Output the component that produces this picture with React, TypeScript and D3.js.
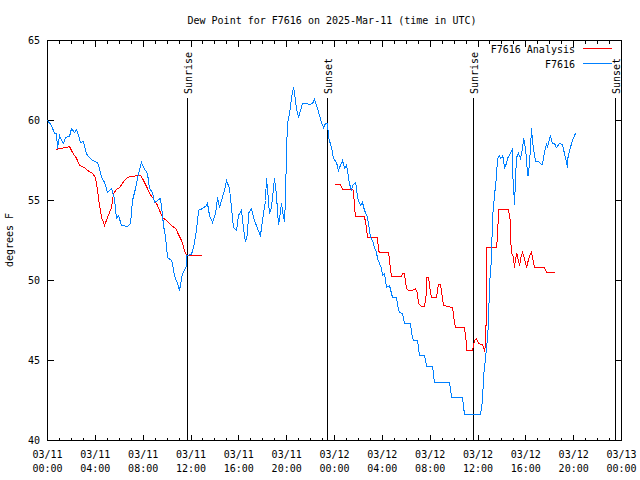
import React from 'react';
import * as d3 from 'd3';

// hours after 2025-03-11 00:00 UTC, dew point in deg F
const observed: [number, number][] = [
  [0, 60.0], [0.33, 59.69], [0.59, 59.19], [0.75, 59.19], [0.84, 58.25], [1.0, 59.06], [1.17, 58.75],
  [1.34, 58.56], [1.51, 58.94], [1.84, 59.0], [2.01, 59.5], [2.26, 59.25], [2.43, 59.44], [2.59, 59.06],
  [2.76, 58.63], [3.01, 58.69], [3.26, 57.94], [3.35, 57.81], [3.76, 57.5], [4.18, 57.38], [4.35, 57.0],
  [4.52, 56.44], [4.77, 56.13], [5.02, 55.5], [5.35, 55.75], [5.6, 55.13], [5.77, 53.88], [5.94, 54.06],
  [6.19, 53.44], [6.69, 53.38], [6.94, 53.56], [7.11, 55.0], [7.36, 55.75], [7.61, 56.69], [7.86, 57.38],
  [8.03, 57.06], [8.36, 56.69], [8.53, 55.75], [8.78, 55.5], [8.95, 54.88], [9.2, 55.0], [9.45, 55.13],
  [9.62, 54.06], [9.7, 53.44], [9.87, 52.69], [10.04, 51.44], [10.37, 51.25], [10.45, 51.06], [10.62, 50.31],
  [10.87, 49.81], [11.04, 49.38], [11.21, 50.13], [11.29, 50.44], [11.46, 50.63], [11.62, 50.94], [11.63, 51.56],
  [12.04, 51.63], [12.21, 52.06], [12.46, 53.13], [12.63, 54.38], [12.96, 54.5], [13.3, 54.69], [13.38, 54.81],
  [13.55, 54.06], [13.8, 53.63], [14.05, 54.19], [14.22, 55.19], [14.38, 54.56], [14.55, 55.0], [14.8, 55.63],
  [14.97, 56.25], [15.22, 55.75], [15.39, 54.5], [15.55, 53.31], [15.81, 53.13], [15.97, 54.06], [16.06, 54.19],
  [16.22, 54.38], [16.39, 53.25], [16.56, 52.38], [16.73, 52.94], [16.81, 54.19], [17.06, 54.5], [17.31, 53.75],
  [17.56, 53.25], [17.81, 52.81], [17.98, 53.75], [18.23, 55.0], [18.31, 56.38], [18.4, 55.75], [18.56, 54.19],
  [18.73, 54.56], [18.98, 56.38], [19.15, 55.31], [19.23, 54.38], [19.32, 53.44], [19.57, 54.81], [19.65, 54.38],
  [19.82, 53.63], [19.9, 55.13], [19.99, 58.13], [20.07, 59.81], [20.24, 60.44], [20.4, 61.38], [20.57, 62.06],
  [20.66, 61.69], [20.82, 60.75], [20.99, 60.19], [21.16, 60.63], [21.32, 61.06], [21.66, 61.06], [21.91, 61.0],
  [22.16, 61.06], [22.33, 61.31], [22.5, 60.94], [22.75, 60.31], [22.91, 59.88], [23.08, 59.56], [23.25, 59.81],
  [23.42, 59.81], [23.5, 58.94], [23.75, 58.31], [23.92, 57.63], [24.17, 57.38], [24.33, 56.88], [24.5, 57.19],
  [24.67, 57.5], [24.84, 57.0], [25.0, 57.19], [25.09, 56.88], [25.25, 56.06], [25.42, 55.63], [25.51, 55.94],
  [25.76, 56.13], [25.84, 55.75], [25.92, 55.19], [26.17, 54.69], [26.34, 54.88], [26.51, 54.38], [26.76, 53.94],
  [26.84, 53.56], [27.01, 52.69], [27.18, 52.5], [27.35, 52.06], [27.51, 51.75], [27.6, 51.38], [27.76, 51.06],
  [27.93, 50.75], [28.01, 50.31], [28.18, 50.44], [28.35, 49.56], [28.6, 49.69], [28.85, 48.94], [29.19, 48.94],
  [29.27, 48.44], [29.44, 48.0], [29.69, 47.94], [29.85, 47.31], [30.36, 47.31], [30.44, 46.69], [30.61, 46.25],
  [30.94, 46.25], [31.11, 45.31], [31.53, 45.31], [31.7, 44.63], [32.2, 44.63], [32.36, 43.63], [33.62, 43.63],
  [33.79, 42.69], [34.7, 42.69], [34.87, 41.63], [36.21, 41.63], [36.38, 42.5], [36.46, 43.94], [36.63, 45.19],
  [36.8, 46.44], [36.88, 47.38], [36.96, 49.69], [37.13, 51.38], [37.21, 53.88], [37.38, 55.31], [37.55, 56.56],
  [37.63, 57.63], [37.8, 57.81], [37.88, 57.63], [38.05, 57.69], [38.08, 57.81], [38.22, 57.06], [38.38, 57.31],
  [38.47, 57.63], [38.72, 57.94], [38.89, 58.25], [38.92, 56.44], [39.06, 54.75], [39.14, 56.44], [39.22, 57.69],
  [39.39, 57.94], [39.56, 57.63], [39.73, 58.31], [39.81, 58.88], [39.89, 58.63], [40.06, 57.63], [40.14, 56.56],
  [40.22, 56.56], [40.39, 58.25], [40.47, 59.5], [40.56, 58.75], [40.64, 58.25], [40.81, 57.44], [41.06, 57.44],
  [41.31, 57.25], [41.39, 57.25], [41.56, 58.0], [41.73, 58.56], [41.81, 58.31], [42.06, 59.06], [42.23, 58.56],
  [42.4, 58.56], [42.56, 58.31], [42.81, 58.56], [43.06, 58.5], [43.23, 57.94], [43.4, 57.38], [43.48, 57.06],
  [43.51, 57.63], [43.73, 58.31], [43.9, 58.75], [44.15, 59.19],
];

const analysisDay1: [number, number][] = [
  [0.75, 58.19], [1.0, 58.25], [1.59, 58.31], [1.84, 58.38], [2.09, 58.0], [2.43, 57.63], [2.68, 57.19],
  [3.09, 57.06], [3.35, 56.88], [3.76, 56.69], [4.01, 56.44], [4.18, 55.63], [4.35, 54.69], [4.52, 53.94],
  [4.77, 53.44], [5.02, 53.94], [5.35, 54.56], [5.52, 55.44], [5.77, 55.69], [6.02, 55.81], [6.44, 56.25],
  [6.69, 56.44], [7.02, 56.5], [7.53, 56.56], [7.78, 56.56], [7.94, 56.38], [8.28, 55.88], [8.53, 55.44],
  [8.78, 55.19], [9.12, 54.81], [9.37, 54.38], [9.62, 53.94], [9.95, 53.75], [10.37, 53.44], [10.79, 53.19],
  [10.87, 53.0], [11.21, 52.5], [11.46, 51.88], [11.62, 51.56], [12.88, 51.56],
];

const analysisDay2: [number, number][] = [
  [24.0, 56.0], [24.5, 56.0], [24.67, 55.69], [25.42, 55.69], [25.59, 55.63], [25.67, 54.56], [25.76, 54.0],
  [26.51, 54.0], [26.68, 53.25], [26.76, 52.69], [27.6, 52.69], [27.68, 51.88], [27.76, 51.75], [28.52, 51.75],
  [28.68, 50.75], [28.77, 50.25], [29.6, 50.25], [29.69, 50.44], [29.85, 50.44], [30.02, 49.5], [30.19, 49.38],
  [30.52, 49.38], [30.77, 49.5], [30.94, 49.19], [31.02, 48.56], [31.27, 48.38], [31.53, 48.38], [31.7, 49.25],
  [31.72, 50.19], [31.86, 50.19], [32.03, 49.25], [32.11, 48.94], [32.53, 48.94], [32.61, 49.38], [32.7, 49.75],
  [32.86, 49.75], [33.03, 48.88], [33.12, 48.44], [33.87, 48.31], [34.03, 47.38], [34.12, 47.06], [34.87, 47.06],
  [35.04, 46.06], [35.06, 45.63], [35.54, 45.63], [35.62, 45.88], [35.71, 46.25], [35.88, 46.38], [36.04, 46.06],
  [36.38, 46.0], [36.54, 45.63], [36.63, 45.88], [36.68, 47.5], [36.73, 52.06], [37.55, 52.06], [37.63, 52.69],
  [37.72, 54.44], [38.55, 54.44], [38.72, 53.63], [38.75, 52.38], [38.8, 51.75], [38.92, 51.56], [39.06, 50.81],
  [39.14, 51.38], [39.25, 51.69], [39.31, 51.44], [39.48, 50.94], [39.62, 51.56], [39.73, 51.75], [39.89, 51.38],
  [40.06, 50.81], [40.14, 51.06], [40.31, 51.56], [40.47, 51.75], [40.56, 51.44], [40.73, 50.81], [41.56, 50.81],
  [41.73, 50.5], [42.4, 50.5], [42.48, 50.44],
];

const sunEvents: { hour: number; label: string }[] = [
  { hour: 11.64, label: 'Sunrise' },
  { hour: 23.41, label: 'Sunset' },
  { hour: 35.62, label: 'Sunrise' },
  { hour: 47.48, label: 'Sunset' },
];

const yTicks = [40, 45, 50, 55, 60, 65];
const majorTickHours = d3.range(0, 49, 4);
const minorTickHours = d3.range(0, 49, 1).filter(h => h % 4 !== 0);

const start = Date.UTC(2025, 2, 11, 0, 0);
const toDate = (h: number) => new Date(start + h * 3600 * 1000);

const width = 640;
const height = 480;
const margin = { top: 40.5, right: 18.5, bottom: 39.5, left: 47.5 };
const font = '"DejaVu Sans Mono", "Liberation Mono", monospace';

const App: React.FC = () => {
  const x = d3.scaleUtc()
    .domain([toDate(0), toDate(48)])
    .range([margin.left, width - margin.right]);
  const y = d3.scaleLinear()
    .domain([40, 65])
    .range([height - margin.bottom, margin.top]);

  const line = d3.line<[number, number]>()
    .x(d => x(toDate(d[0])))
    .y(d => y(d[1]));

  const fmtDay = d3.utcFormat('%m/%d');
  const fmtTime = d3.utcFormat('%H:%M');
  const x0 = margin.left, x1 = width - margin.right;
  const y0 = margin.top, y1 = height - margin.bottom;
  const sx = (h: number) => Math.round(x(toDate(h))) + 0.5;

  return (
    <svg width={width} height={height} style={{ position: 'absolute', left: 0, top: 0, background: '#fff' }}
      fontFamily={font} fontSize={10}>
      <rect width={width} height={height} fill="#fff" />
      <text x={332} y={24} textAnchor="middle">Dew Point for F7616 on 2025-Mar-11 (time in UTC)</text>
      <text transform={`translate(13,240) rotate(-90)`} textAnchor="middle">degrees F</text>

      <g stroke="#000" shapeRendering="crispEdges">
        {yTicks.map(v => (
          <g key={v}>
            <line x1={x0} x2={x0 + 6} y1={y(v)} y2={y(v)} />
            <line x1={x1 - 6} x2={x1} y1={y(v)} y2={y(v)} />
          </g>
        ))}
        {majorTickHours.map(h => (
          <g key={h}>
            <line x1={x(toDate(h))} x2={x(toDate(h))} y1={y1} y2={y1 - 6} />
            <line x1={x(toDate(h))} x2={x(toDate(h))} y1={y0} y2={y0 + 6} />
          </g>
        ))}
        {minorTickHours.map(h => (
          <g key={h}>
            <line x1={x(toDate(h))} x2={x(toDate(h))} y1={y1} y2={y1 - 3} />
            <line x1={x(toDate(h))} x2={x(toDate(h))} y1={y0} y2={y0 + 3} />
          </g>
        ))}
        {sunEvents.map((s, i) => (
          <line key={i} x1={sx(s.hour)} x2={sx(s.hour)} y1={98} y2={y1} />
        ))}
        <rect x={x0} y={y0} width={x1 - x0} height={y1 - y0} fill="none" />
      </g>

      {yTicks.map(v => (
        <text key={v} x={40} y={y(v)} dy="0.35em" textAnchor="end">{v}</text>
      ))}
      {majorTickHours.map(h => (
        <g key={h} textAnchor="middle">
          <text x={x(toDate(h))} y={458}>{fmtDay(toDate(h))}</text>
          <text x={x(toDate(h))} y={472}>{fmtTime(toDate(h))}</text>
        </g>
      ))}
      {sunEvents.map((s, i) => (
        <text key={i} transform={`translate(${sx(s.hour) + 4},94) rotate(-90)`}>{s.label}</text>
      ))}

      <g fill="none" strokeWidth={1} shapeRendering="crispEdges">
        <path d={line(analysisDay1) ?? ''} stroke="#ff0000" />
        <path d={line(analysisDay2) ?? ''} stroke="#ff0000" />
        <path d={line(observed) ?? ''} stroke="#0080ff" />
      </g>

      <g textAnchor="end">
        <text x={575} y={53}>F7616 Analysis</text>
        <text x={575} y={68}>F7616</text>
      </g>
      <line x1={583} x2={612} y1={48.5} y2={48.5} stroke="#ff0000" shapeRendering="crispEdges" />
      <line x1={583} x2={612} y1={63.5} y2={63.5} stroke="#0080ff" shapeRendering="crispEdges" />
    </svg>
  );
};

export default App;
